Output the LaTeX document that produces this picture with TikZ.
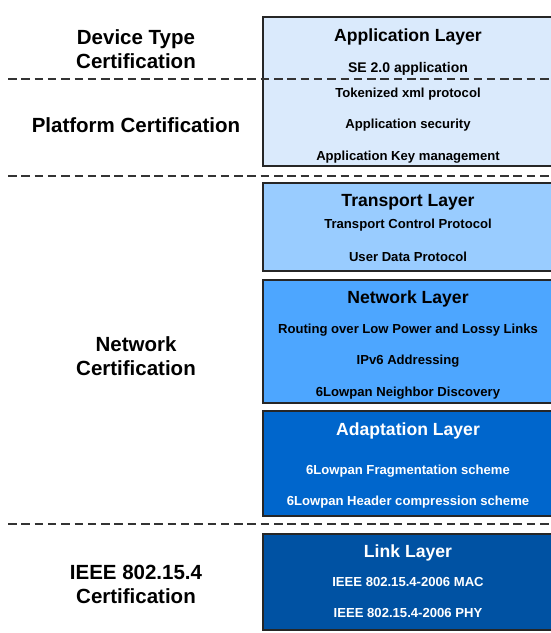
\documentclass[tikz,border=0pt]{standalone}
\usepackage{fontspec}
\setmainfont{Liberation Sans}
\usepackage{tikz}

\definecolor{appcol}{HTML}{DAEAFC}
\definecolor{transcol}{HTML}{99CCFF}
\definecolor{netcol}{HTML}{4DA6FF}
\definecolor{adaptcol}{HTML}{0066CC}
\definecolor{linkcol}{HTML}{0052A3}

\begin{document}
\begin{tikzpicture}[x=1pt,y=-1pt,
		layer/.style={draw=black!85, line width=1.1pt, inner sep=0pt},
		title/.style={font=\bfseries\fontsize{17.6}{20}\selectfont},
		item/.style={font=\bfseries\fontsize{13.1}{15}\selectfont},
		cert/.style={font=\bfseries\fontsize{20.5}{24.5}\selectfont, align=center},
		sep/.style={draw=black!80, line width=2.2pt, dash pattern=on 8.5pt off 4.8pt}]

		\useasboundingbox (0,0) rectangle (550,633);

		% layer boxes
		\node[layer, fill=appcol, minimum width=290, minimum height=149] (app) at (408,91.5) {};
		\node[layer, fill=transcol, minimum width=290, minimum height=88] (trans) at (408,227) {};
		\node[layer, fill=netcol, minimum width=290, minimum height=123] (net) at (408,341.5) {};
		\node[layer, fill=adaptcol, minimum width=290, minimum height=105] (adapt) at (408,463.5) {};
		\node[layer, fill=linkcol, minimum width=290, minimum height=96] (link) at (408,582) {};

		% separators
		\coordinate (s1a) at (8,79);  \coordinate (s1b) at (550,79);
		\coordinate (s2a) at (8,176); \coordinate (s2b) at (550,176);
		\coordinate (s3a) at (8,524); \coordinate (s3b) at (550,524);
		\draw[sep] (s1a) -- (s1b);
		\draw[sep] (s2a) -- (s2b);
		\draw[sep] (s3a) -- (s3b);

		% application layer
		\node[title] (appT) at (408,37) {Application Layer};
		\node[item, font=\bfseries\fontsize{14}{16}\selectfont] (app1) at (408,69) {SE 2.0 application};
		\node[item] (app2) at (408,94) {Tokenized xml protocol};
		\node[item] (app3) at (408,125) {Application security};
		\node[item] (app4) at (408,157) {Application Key management};

		% transport layer
		\node[title] (transT) at (408,202) {Transport Layer};
		\node[item] (trans1) at (408,225) {Transport Control Protocol};
		\node[item] (trans2) at (408,257) {User Data Protocol};

		% network layer
		\node[title] (netT) at (408,299) {Network Layer};
		\node[item] (net1) at (408,330) {Routing over Low Power and Lossy Links};
		\node[item] (net2) at (408,361) {IPv6 Addressing};
		\node[item] (net3) at (408,393) {6Lowpan Neighbor Discovery};

		% adaptation layer
		\node[title, white] (adaptT) at (408,431) {Adaptation Layer};
		\node[item, white] (adapt1) at (408,471) {6Lowpan Fragmentation scheme};
		\node[item, white] (adapt2) at (408,502) {6Lowpan Header compression scheme};

		% link layer
		\node[title, white] (linkT) at (408,553) {Link Layer};
		\node[item, white] (link1) at (408,582) {IEEE 802.15.4-2006 MAC};
		\node[item, white] (link2) at (408,613) {IEEE 802.15.4-2006 PHY};

		% certifications
		\node[cert] (devcert) at (136,49) {Device Type\\Certification};
		\node[cert] (platcert) at (136,125) {Platform Certification};
		\node[cert] (netcert) at (136,356) {Network\\Certification};
		\node[cert] (ieeecert) at (136,584.5) {IEEE 802.15.4\\Certification};

	\end{tikzpicture}
\end{document}
